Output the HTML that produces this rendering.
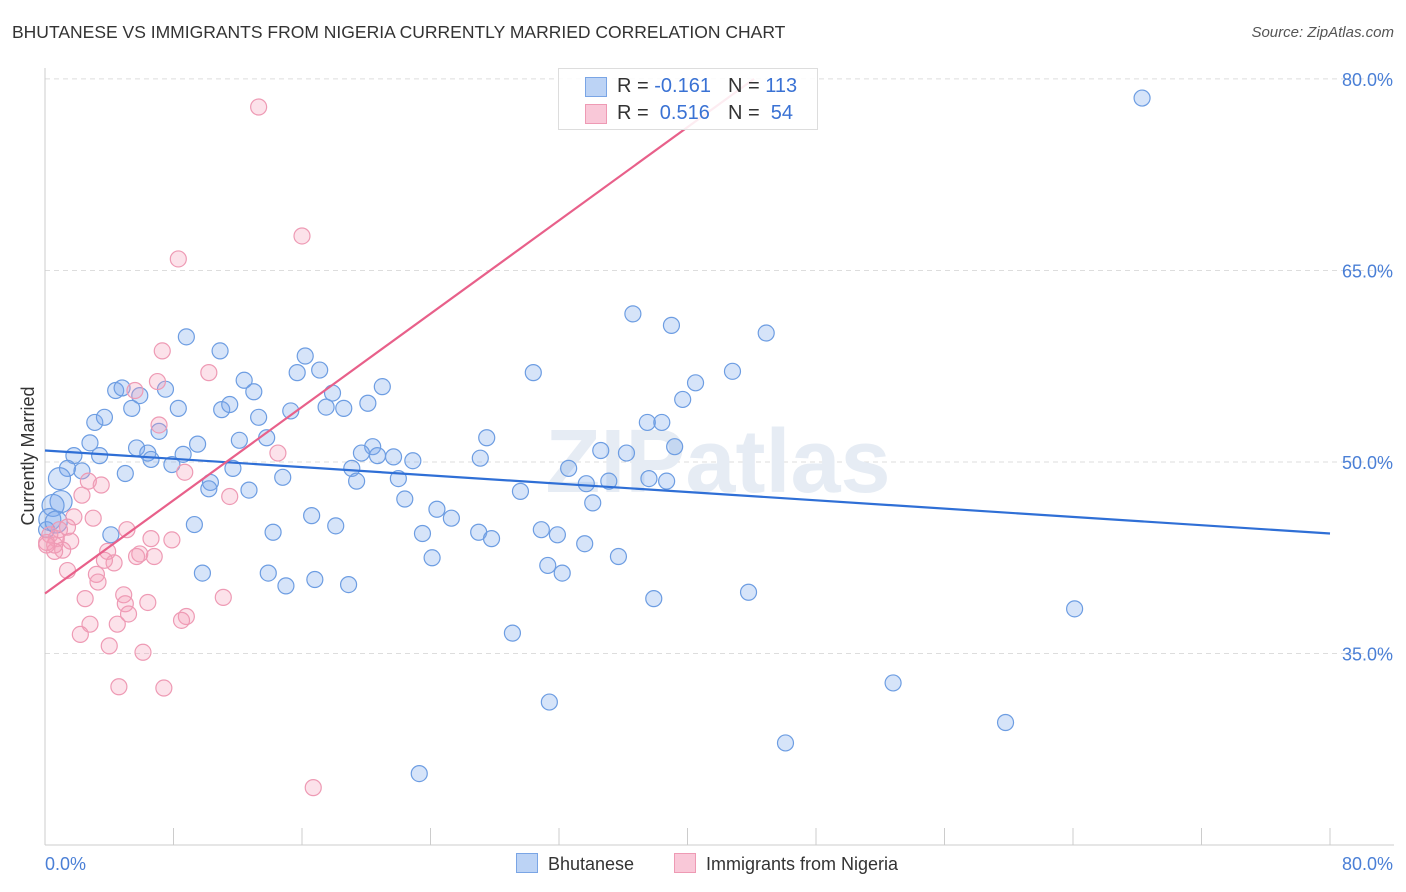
<!DOCTYPE html>
<html><head><meta charset="utf-8"><style>
body{margin:0;background:#fff;font-family:"Liberation Sans",sans-serif;}
#wrap{position:relative;width:1406px;height:892px;overflow:hidden;}
.t{position:absolute;white-space:nowrap;}
</style></head><body>
<div id="wrap">
<div class="t" style="left:12px;top:22px;font-size:17.5px;color:#333;">BHUTANESE VS IMMIGRANTS FROM NIGERIA CURRENTLY MARRIED CORRELATION CHART</div>
<div class="t" style="right:12px;top:24px;font-size:15px;color:#555;font-style:italic;">Source: ZipAtlas.com</div>
<svg id="chart" width="1406" height="892" style="position:absolute;left:0;top:0;"></svg>
</div>
<script>
const xTicks=[0,8,16,24,32,40,48,56,64,72,80];
const yTicks=[35,50,65,80];
const yTickLabels=["35.0%","50.0%","65.0%","80.0%"];
const blueX=[68.3,36.6,39.0,44.9,8.8,10.9,16.2,30.4,42.8,15.7,17.1,40.5,21.0,4.4,4.8,7.5,12.4,13.0,17.9,5.9,39.7,5.4,8.3,11.0,11.5,15.3,17.5,18.6,20.1,13.3,3.1,3.7,37.5,38.4,7.1,27.5,13.8,12.1,2.8,9.5,5.7,20.4,3.4,1.8,6.4,6.6,8.6,19.7,20.7,21.7,22.9,27.1,34.6,36.2,39.2,7.9,1.4,2.3,11.7,19.1,32.6,5.0,14.8,19.4,22.0,33.7,35.1,37.6,38.7,10.3,10.2,12.7,29.6,22.4,34.1,1.0,0.9,0.5,24.4,25.3,16.6,9.3,18.1,14.2,23.5,27.0,27.8,30.9,31.9,4.1,33.6,24.1,35.7,31.3,32.2,9.8,13.9,15.0,16.8,18.9,37.9,43.8,64.1,29.1,31.4,52.8,59.8,46.1,23.3,0.3,0.1,0.7];
const blueY=[78.5,61.6,60.7,60.1,59.8,58.7,58.3,57.0,57.1,57.0,57.2,56.2,55.9,55.6,55.8,55.7,56.4,55.5,55.4,55.2,54.9,54.2,54.2,54.1,54.5,54.0,54.3,54.2,54.6,53.5,53.1,53.5,53.1,53.1,52.4,51.9,51.9,51.7,51.5,51.4,51.1,51.2,50.5,50.5,50.7,50.2,50.6,50.7,50.5,50.4,50.1,50.3,50.9,50.7,51.2,49.8,49.5,49.3,49.5,49.5,49.5,49.1,48.8,48.5,48.7,48.3,48.5,48.7,48.5,48.4,47.9,47.8,47.7,47.1,46.8,46.9,48.7,46.6,46.3,45.6,45.8,45.1,45.0,44.5,44.4,44.5,44.0,44.7,44.3,44.3,43.6,42.5,42.6,41.9,41.3,41.3,41.3,40.3,40.8,40.4,39.3,39.8,38.5,36.6,31.2,32.7,29.6,28.0,25.6,45.5,44.7,45.3];
const pinkX=[13.3,16.0,8.3,7.3,10.2,7.0,5.6,7.1,8.7,11.5,14.5,2.7,3.5,2.3,3.0,1.8,1.4,0.9,1.6,0.7,0.3,0.1,1.1,0.6,5.1,6.6,7.9,3.9,5.9,1.4,3.2,3.3,4.3,3.7,5.7,6.8,4.9,2.5,5.0,6.4,4.5,5.2,2.8,8.8,8.5,11.1,2.2,4.0,6.1,4.6,7.4,16.7,0.6,0.1];
const pinkY=[77.8,67.7,65.9,58.7,57.0,56.3,55.6,52.9,49.2,47.3,50.7,48.5,48.2,47.4,45.6,45.7,44.9,44.7,43.8,44.0,44.3,43.7,43.1,43.0,44.7,44.0,43.9,43.0,42.8,41.5,41.2,40.6,42.1,42.3,42.6,42.6,39.6,39.3,38.9,39.0,37.3,38.1,37.3,37.9,37.6,39.4,36.5,35.6,35.1,32.4,32.3,24.5,43.5,43.5];
const blueTrend=[50.9,44.4];
const pinkTrend=[39.7,0.913];
const X0=45,X1=1330,Y50=462,PPY=12.77;
const sx=v=>X0+(X1-X0)*v/80;
const sy=v=>Y50-(v-50)*PPY;
const svg=document.getElementById('chart');
const NS='http://www.w3.org/2000/svg';
function mk(t,a){const e=document.createElementNS(NS,t);for(const k in a)e.setAttribute(k,a[k]);svg.appendChild(e);return e;}
yTicks.forEach((v,i)=>{
 const g=mk('line',{x1:X0,x2:1394,y1:sy(v),y2:sy(v),stroke:'#ddd','stroke-dasharray':'5,4'});
 
 
 const t=mk('text',{x:1393,y:sy(v)+7,'text-anchor':'end','font-size':18,fill:'#4a7fd6'});
 t.textContent=yTickLabels[i];
 
 
});
const ax=mk('line',{x1:X0,x2:X0,y1:68,y2:845,stroke:'#ccc'});


const bx=mk('line',{x1:X0,x2:1394,y1:845,y2:845,stroke:'#ccc'});


xTicks.forEach(v=>{
 const t=mk('line',{x1:sx(v),x2:sx(v),y1:828,y2:845,stroke:'#ccc'});
 
 
});
[[0,'0.0%','start',45],[80,'80.0%','end',1393]].forEach(a=>{
 const t=mk('text',{x:a[3],y:870,'text-anchor':a[2],'font-size':18,fill:'#4a7fd6'});
 t.textContent=a[1];
 
 
});
const yt=mk('text',{x:34,y:456,'text-anchor':'middle','font-size':18,fill:'#333',transform:'rotate(-90 34 456)'});
yt.textContent='Currently Married';


const wm=mk('text',{x:718,y:492,'text-anchor':'middle','font-size':90,fill:'#e6ecf4','font-weight':'bold'});
wm.textContent='ZIPatlas';


blueX.forEach((x,i)=>{
 const big=(x<1.2&&blueY[i]>45&&blueY[i]<49);
 const c=mk('circle',{cx:sx(x),cy:sy(blueY[i]),r:big?11:8,fill:'rgba(120,165,235,0.3)',stroke:'#6d9de2','stroke-width':1.2});
 
 
});
pinkX.forEach((x,i)=>{
 const c=mk('circle',{cx:sx(x),cy:sy(pinkY[i]),r:8,fill:'rgba(245,160,185,0.3)',stroke:'#ee9ab4','stroke-width':1.2});
 
 
});
const bl=mk('line',{x1:sx(0),y1:sy(blueTrend[0]),x2:sx(80),y2:sy(blueTrend[1]),stroke:'#2f6fd6','stroke-width':2.2});


const pxEnd=(80-pinkTrend[0])/pinkTrend[1];
const pl=mk('line',{x1:sx(0),y1:sy(pinkTrend[0]),x2:sx(pxEnd),y2:sy(80),stroke:'#e8608a','stroke-width':2.2});


</script>
<div class="t" style="left:558px;top:68px;width:260px;height:62px;border:1px solid #ddd;background:rgba(255,255,255,0.88);box-sizing:border-box;font-size:20px;">
 <div style="position:absolute;left:26px;top:8px;width:20px;height:18px;background:#bcd3f5;border:1px solid #7aa5e5;"></div>
 <div style="position:absolute;left:58px;top:6px;color:#333;">R = <span style="color:#3a72d4">-0.161</span></div>
 <div style="position:absolute;left:169px;top:6px;color:#333;">N = <span style="color:#3a72d4">113</span></div>
 <div style="position:absolute;left:26px;top:35px;width:20px;height:18px;background:#f9c8d8;border:1px solid #ee9ab4;"></div>
 <div style="position:absolute;left:58px;top:33px;color:#333;">R = &nbsp;<span style="color:#3a72d4">0.516</span></div>
 <div style="position:absolute;left:169px;top:33px;color:#333;">N = &nbsp;<span style="color:#3a72d4">54</span></div>
</div>
<div class="t" style="left:516px;top:853px;font-size:18px;color:#333;"><span style="display:inline-block;width:20px;height:18px;background:#bcd3f5;border:1px solid #7aa5e5;vertical-align:-3px;margin-right:10px;"></span>Bhutanese</div>
<div class="t" style="left:674px;top:853px;font-size:18px;color:#333;"><span style="display:inline-block;width:20px;height:18px;background:#f9c8d8;border:1px solid #ee9ab4;vertical-align:-3px;margin-right:10px;"></span>Immigrants from Nigeria</div>
</body></html>
